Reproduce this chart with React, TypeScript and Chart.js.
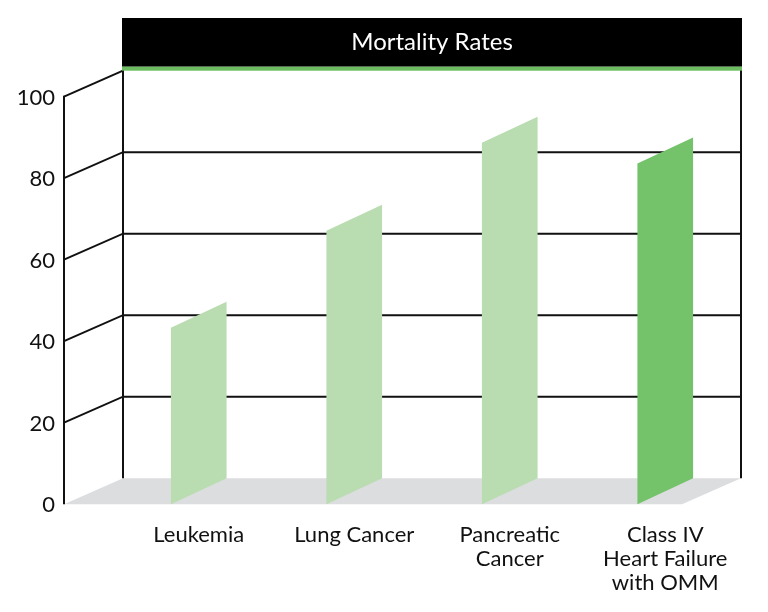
import React, { useEffect, useRef } from 'react';
import { Chart, registerables } from 'chart.js';

Chart.register(...registerables);

const chartTitle = 'Mortality Rates';
const categories: string[][] = [
  ['Leukemia'],
  ['Lung Cancer'],
  ['Pancreatic', 'Cancer'],
  ['Class IV', 'Heart Failure', 'with OMM'],
];
const mortality = [43.3, 67.1, 88.7, 83.6];
const barColors = ['#b9dcb0', '#b9dcb0', '#b9dcb0', '#74c26a'];
const yTicks = [0, 20, 40, 60, 80, 100];

const DX = 59;
const DY = 26;
const FONT = 'Lato, "Open Sans", sans-serif';

const pseudo3d = {
  id: 'pseudo3d',
  beforeDatasetsDraw(chart: any) {
    const { ctx, chartArea: ca, scales } = chart;
    const y = scales.y;
    const wl = ca.left + 2;
    const wr = ca.right - 2;
    const fl = wl - DX;
    const y0 = y.getPixelForValue(0);
    const yTop = y.getPixelForValue(100);
    ctx.save();

    // floor
    ctx.fillStyle = '#dcdddf';
    ctx.beginPath();
    ctx.moveTo(fl, y0);
    ctx.lineTo(wl, y0 - DY);
    ctx.lineTo(wr, y0 - DY);
    ctx.lineTo(wr - DX, y0);
    ctx.closePath();
    ctx.fill();

    // grid lines
    ctx.strokeStyle = '#111';
    ctx.lineWidth = 2;
    yTicks.forEach((v) => {
      if (v <= 0) return;
      const py = y.getPixelForValue(v);
      ctx.beginPath();
      ctx.moveTo(fl, py);
      ctx.lineTo(wl, py - DY);
      if (v < 100) ctx.lineTo(wr, py - DY);
      ctx.stroke();
    });
    // verticals
    ctx.beginPath();
    ctx.moveTo(fl, yTop - 1);
    ctx.lineTo(fl, y0);
    ctx.moveTo(wl, yTop - DY - 2);
    ctx.lineTo(wl, y0 - DY);
    ctx.moveTo(wr, yTop - DY - 2);
    ctx.lineTo(wr, y0 - DY);
    ctx.stroke();

    // bars as slanted panels
    const meta = chart.getDatasetMeta(0);
    const ds = chart.data.datasets[0];
    meta.data.forEach((el: any, i: number) => {
      const p = el.getProps(['x', 'y', 'base', 'width'], true);
      const xl = p.x - p.width / 2;
      const xr = p.x + p.width / 2;
      ctx.fillStyle = ds.backgroundColor[i];
      ctx.beginPath();
      ctx.moveTo(xl, p.base);
      ctx.lineTo(xr, p.base - DY);
      ctx.lineTo(xr, p.y - DY);
      ctx.lineTo(xl, p.y);
      ctx.closePath();
      ctx.fill();
    });

    // title bar
    const backTop = yTop - DY;
    ctx.fillStyle = '#000';
    ctx.fillRect(wl - 1, 18, wr - wl + 2, backTop - 4 - 18);
    ctx.fillStyle = '#6cbd5f';
    ctx.fillRect(wl - 1, backTop - 4, wr - wl + 2, 4);
    ctx.fillStyle = '#fff';
    ctx.font = `24px ${FONT}`;
    ctx.textAlign = 'center';
    ctx.textBaseline = 'alphabetic';
    ctx.fillText(chartTitle, (wl + wr) / 2, 50);

    // y tick labels at front axis
    ctx.fillStyle = '#111';
    ctx.font = `22px ${FONT}`;
    ctx.textAlign = 'right';
    ctx.textBaseline = 'middle';
    yTicks.forEach((v) => {
      ctx.fillText(String(v), fl - 9, y.getPixelForValue(v) + 1);
    });

    // category labels
    ctx.textAlign = 'center';
    ctx.textBaseline = 'alphabetic';
    meta.data.forEach((el: any, i: number) => {
      const lines = chart.data.labels[i] as string[];
      lines.forEach((t: string, j: number) => {
        ctx.fillText(t, el.x, y0 + 38 + j * 24);
      });
    });

    ctx.restore();
    return false;
  },
};

export default function App() {
  const ref = useRef<HTMLCanvasElement>(null);
  useEffect(() => {
    if (!ref.current) return;
    const chart = new Chart(ref.current, {
      type: 'bar',
      data: {
        labels: categories as any,
        datasets: [
          {
            label: 'Mortality Rates',
            data: mortality,
            backgroundColor: barColors,
            barPercentage: 0.358,
            categoryPercentage: 1,
          },
        ],
      },
      options: {
        responsive: false,
        animation: false,
        layout: { padding: { left: 121, right: 25, top: 96.7, bottom: 107.8 } },
        plugins: { legend: { display: false }, tooltip: { enabled: false }, title: { display: false } },
        scales: {
          x: { display: false },
          y: { display: false, min: 0, max: 100, ticks: { stepSize: 20 } },
        },
      },
      plugins: [pseudo3d],
    });
    return () => chart.destroy();
  }, []);
  return (
    <canvas
      ref={ref}
      width={768}
      height={612}
      style={{ position: 'absolute', left: 0, top: 0, width: 768, height: 612 }}
    />
  );
}
